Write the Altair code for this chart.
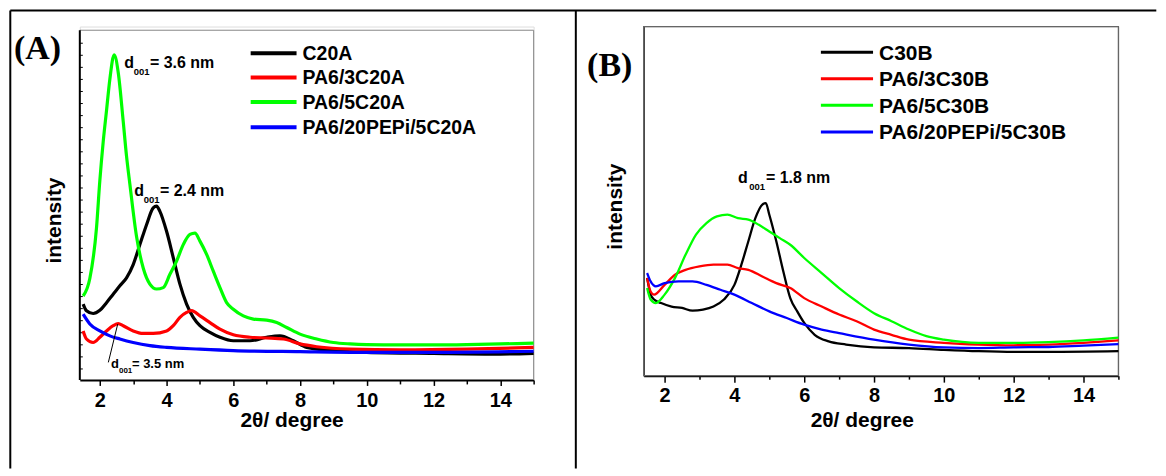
import altair as alt
import pandas as pd

# ---------------- data ----------------
COLORS = ["#000000", "#ff0000", "#00ff00", "#0000ff"]

A_SERIES = ["C20A", "PA6/3C20A", "PA6/5C20A", "PA6/20PEPi/5C20A"]
B_SERIES = ["C30B", "PA6/3C30B", "PA6/5C30B", "PA6/20PEPi/5C30B"]

a_c20a_x = [1.5, 1.6, 1.8, 2.0, 2.2, 2.4, 2.6, 2.8, 3.0, 3.2, 3.4, 3.6, 3.7, 3.8, 4.0, 4.2, 4.4, 4.6, 4.8,
            5.0, 5.3, 5.6, 6.0, 6.5, 7.0, 7.4, 7.8, 8.2, 9.0, 10.0, 12.0, 14.0, 15.0]
a_c20a_y = [21.7, 19.8, 19.0, 19.9, 22.1, 24.5, 26.9, 29.2, 33.0, 38.7, 44.4, 49.2, 49.7, 48.2, 42.5, 35.0,
            27.4, 21.7, 17.9, 15.5, 13.6, 12.2, 11.2, 11.2, 12.2, 12.6, 11.2, 9.3, 8.4, 7.9, 7.6, 7.4, 7.6]

a_3c20a_x = [1.5, 1.6, 1.8, 2.0, 2.2, 2.4, 2.55, 2.7, 3.0, 3.3, 3.6, 4.0, 4.2, 4.4, 4.6, 4.75, 5.0, 5.3,
             5.6, 6.0, 6.5, 7.0, 7.5, 8.0, 8.5, 9.5, 11.0, 13.0, 15.0]
a_3c20a_y = [14.0, 11.7, 10.7, 12.2, 14.0, 15.5, 16.1, 15.5, 14.0, 13.3, 13.3, 14.0, 15.5, 17.9, 19.3, 19.8,
             18.3, 16.4, 14.5, 12.9, 12.2, 12.0, 11.7, 10.3, 9.5, 8.8, 8.6, 8.8, 9.3]

a_5c20a_x = [1.5, 1.7, 1.9, 2.0, 2.1, 2.2, 2.3, 2.43, 2.55, 2.7, 2.8, 2.9, 3.1, 3.3, 3.5, 3.7, 3.9, 4.1,
             4.3, 4.5, 4.7, 4.85, 5.0, 5.2, 5.4, 5.6, 5.8, 6.0, 6.3, 6.6, 7.0, 7.3, 7.6, 8.0, 8.5, 9.0,
             9.5, 10.0, 11.0, 12.0, 13.0, 14.0, 15.0]
a_5c20a_y = [24.0, 29.0, 43.5, 57.0, 68.0, 77.0, 86.0, 93.0, 88.0, 74.0, 64.0, 56.0, 41.0, 32.0, 27.4,
             26.0, 26.4, 30.2, 34.0, 38.7, 41.6, 42.0, 39.7, 35.9, 31.1, 26.4, 22.1, 20.2, 18.3, 17.4,
             17.1, 16.4, 15.0, 13.1, 11.7, 10.7, 10.3, 10.1, 10.0, 10.0, 10.1, 10.3, 10.5]

a_pepi_x = [1.5, 1.7, 2.0, 2.3, 2.6, 3.0, 3.5, 4.0, 5.0, 6.0, 8.0, 10.0, 12.0, 15.0]
a_pepi_y = [18.8, 16.0, 14.0, 12.6, 11.7, 10.7, 9.8, 9.3, 8.8, 8.4, 8.1, 7.9, 7.9, 8.2]

b_c30b_x = [1.5, 1.6, 1.7, 1.9, 2.2, 2.5, 2.8, 3.1, 3.4, 3.7, 4.0, 4.2, 4.4, 4.6, 4.8, 4.9, 5.0, 5.2,
            5.4, 5.6, 5.8, 6.0, 6.3, 6.7, 7.2, 8.0, 9.0, 10.0, 11.0, 12.0, 13.0, 15.0]
b_c30b_y = [28.0, 23.2, 21.8, 20.8, 19.8, 19.4, 18.6, 18.9, 19.8, 21.8, 26.0, 31.8, 38.5, 45.1, 49.0,
            49.4, 46.1, 38.5, 29.9, 22.2, 18.4, 15.1, 11.7, 9.8, 8.9, 8.1, 7.9, 7.4, 7.0, 6.8, 6.8, 7.0]

b_3c30b_x = [1.5, 1.6, 1.7, 2.0, 2.3, 2.6, 3.0, 3.4, 3.8, 4.1, 4.4, 4.8, 5.2, 5.6, 6.0, 6.5, 7.0, 7.5,
             8.0, 8.5, 9.0, 10.0, 11.0, 12.0, 13.0, 14.0, 15.0]
b_3c30b_y = [28.0, 24.1, 23.2, 26.0, 28.9, 30.3, 31.3, 31.8, 31.8, 30.8, 30.3, 28.4, 26.5, 25.1, 22.2,
             19.8, 17.5, 15.6, 13.2, 11.7, 10.3, 9.4, 8.9, 8.7, 8.9, 9.4, 10.1]

b_5c30b_x = [1.5, 1.6, 1.75, 2.0, 2.3, 2.6, 2.9, 3.2, 3.5, 3.8, 4.1, 4.4, 4.7, 5.0, 5.3, 5.6, 6.0, 6.5,
             7.0, 7.5, 8.0, 8.5, 9.0, 9.5, 10.0, 11.0, 12.0, 13.0, 14.0, 15.0]
b_5c30b_y = [25.1, 21.8, 20.8, 23.2, 28.0, 34.6, 40.4, 43.7, 45.6, 46.1, 45.1, 44.7, 43.2, 41.3, 39.4,
             37.5, 33.7, 29.4, 25.1, 21.3, 17.9, 15.6, 13.2, 11.3, 10.3, 9.4, 9.4, 9.6, 10.1, 10.9]

b_pepi_x = [1.5, 1.6, 1.75, 2.0, 2.4, 2.8, 3.2, 3.6, 4.0, 4.5, 5.0, 5.5, 6.0, 6.5, 7.0, 8.0, 9.0, 10.0,
            11.0, 12.0, 13.0, 14.0, 15.0]
b_pepi_y = [29.4, 27.0, 25.6, 26.5, 27.0, 27.0, 26.0, 24.6, 23.2, 20.8, 18.4, 16.5, 14.6, 13.2, 12.2,
            10.3, 8.9, 8.1, 7.9, 8.1, 8.2, 8.6, 9.0]

X_TICKS = list(range(2, 16))
A_YTICKS = [round(3.14 + 3.45 * k, 2) for k in range(28)]

# ---------------- helpers ----------------
FONT = "Liberation Sans"
SERIF = "Liberation Serif"
ONE = pd.DataFrame({"k": [0]})


def long_df(names, xs_list, ys_list):
    rows = []
    for name, xs, ys in zip(names, xs_list, ys_list):
        for x, y in zip(xs, ys):
            rows.append({"x": x, "y": y, "series": name})
    return pd.DataFrame(rows)


def seg(x, y, x2, y2, color="black", width=1.0):
    return alt.Chart(ONE).mark_rule(color=color, strokeWidth=width).encode(
        x=alt.value(x), y=alt.value(y), x2=alt.value(x2), y2=alt.value(y2))


def txt(text, x, y, size, font=FONT, weight="bold"):
    return alt.Chart(pd.DataFrame({"t": [text]})).mark_text(
        align="left", baseline="alphabetic", font=font, fontSize=size,
        fontWeight=weight, color="black").encode(
        x=alt.value(x), y=alt.value(y), text="t:N")


def d001(x, base, size, sub_size, d_w, sub_w, rest):
    return [txt("d", x, base, size),
            txt("001", x + d_w, base + size * 0.42, sub_size),
            txt(rest, x + d_w + sub_w, base, size)]


def x_axis(title_x, title_y, major, minor, pad):
    return alt.Axis(
        values=X_TICKS, labelExpr="datum.value % 2 == 0 ? datum.label : ''",
        title="2θ/ degree", titleX=title_x, titleY=title_y, titleAlign="center",
        titleBaseline="alphabetic", titleFont=FONT, titleFontSize=21,
        titleFontWeight="bold", titleColor="black",
        labelFont=FONT, labelFontSize=20, labelFontWeight="bold", labelColor="black",
        labelBaseline="alphabetic", labelPadding=pad, labelFlush=False, labelOverlap=False,
        tickSize={"condition": {"test": "datum.value % 2 == 1", "value": minor}, "value": major},
        tickColor="black", tickWidth=1.5, domainColor="black", domainWidth=2, grid=False)


def y_axis(title_x, title_y, domain):
    kw = dict(title="intensity", ticks=False, labels=False, grid=False,
              titleX=title_x, titleY=title_y, titleAngle=270, titleAlign="center",
              titleBaseline="middle", titleFont=FONT, titleFontSize=21,
              titleFontWeight="bold", titleColor="black", domain=domain)
    if domain:
        kw.update(domainColor="#333333", domainWidth=1.6)
    return alt.Axis(**kw)


def lines(df, names, xaxis, yaxis, yrange, width):
    return alt.Chart(df).mark_line(strokeWidth=width, interpolate="monotone").encode(
        x=alt.X("x:Q", scale=alt.Scale(domain=[1.4, 15], nice=False, zero=False), axis=xaxis),
        y=alt.Y("y:Q", scale=alt.Scale(domain=[0, 100], range=yrange, nice=False, zero=False),
                axis=yaxis),
        color=alt.Color("series:N", scale=alt.Scale(domain=names, range=COLORS), legend=None),
    )


def legend(names, x0, x1, xl, rows, size, width):
    out = []
    for name, col, yy in zip(names, COLORS, rows):
        out.append(seg(x0, yy, x1, yy, col, width))
        out.append(txt(name, xl, yy + 0.358 * size, size))
    return out


# ---------------- panel A ----------------
WA, HA = 455, 354.3
A_TOP = 3.7
df_a = long_df(A_SERIES, [a_c20a_x, a_3c20a_x, a_5c20a_x, a_pepi_x],
               [a_c20a_y, a_3c20a_y, a_5c20a_y, a_pepi_y])

a_ticks = alt.Chart(pd.DataFrame({"y": A_YTICKS})).mark_rule(color="black", strokeWidth=1).encode(
    y=alt.Y("y:Q"), x=alt.value(0), x2=alt.value(3))

a_layers = [
    # table borders
    seg(-69.7, -16, -69.7, 443, "black", 2),
    seg(-69.7, -16, 1079.3, -16, "black", 2),
    seg(497.3, -16, 497.3, 443, "black", 2),
    # plot frame
    seg(0, A_TOP, WA, A_TOP, "#888888", 1),
    seg(WA, A_TOP, WA, HA, "#888888", 1),
    a_ticks,
    lines(df_a, A_SERIES, x_axis(212.3, 46.2, 5.5, 4, 21), y_axis(-25.4, 194, False),
          [HA, A_TOP], 3.2),
    seg(0, A_TOP, 0, HA, "black", 2),
    txt("(A)", -66, 32.3, 34, font=SERIF),
    seg(28.6, 336.7, 38, 298.3, "black", 1),
]
a_layers += legend(A_SERIES, 171.3, 217.3, 223.3, [26.7, 51, 75.7, 101], 19.5, 4)
a_layers += d001(44.6, 41.7, 16, 9.5, 9.4, 16.3, "= 3.6 nm")
a_layers += d001(54.6, 170, 16, 9.5, 9.4, 16.3, "= 2.4 nm")
a_layers += d001(31.3, 342.3, 13, 8, 8, 13, "= 3.5 nm")
panel_a = alt.layer(*a_layers).properties(width=WA, height=HA)

# ---------------- panel B ----------------
WB, HB = 476, 350
df_b = long_df(B_SERIES, [b_c30b_x, b_3c30b_x, b_5c30b_x, b_pepi_x],
               [b_c30b_y, b_3c30b_y, b_5c30b_y, b_pepi_y])

b_layers = [
    alt.Chart(ONE).mark_rect(fillOpacity=0, stroke="#666666", strokeWidth=1.3).encode(
        x=alt.value(0), x2=alt.value(WB), y=alt.value(0), y2=alt.value(HB)),
    lines(df_b, B_SERIES, x_axis(218.7, 50.5, 6.5, 3.5, 19), y_axis(-28.6, 180, True),
          [HB, 0], 2.3),
    txt("(B)", -56.7, 50, 34, font=SERIF),
]
b_layers += legend(B_SERIES, 177.7, 230, 236, [25.7, 52.3, 79, 105.7], 21, 3)
b_layers += d001(94.6, 156.7, 16, 9.5, 11.2, 16.8, "= 1.8 nm")
panel_b = alt.layer(*b_layers).properties(width=WB, height=HB)

chart = alt.hconcat(panel_a, panel_b, spacing=110.3, bounds="flush").properties(
    padding={"left": 0, "top": 0, "right": 0, "bottom": 0}
).configure_view(stroke="transparent").configure(background="white")

chart.save("out.html", embed_options={"renderer": "svg", "actions": False})
